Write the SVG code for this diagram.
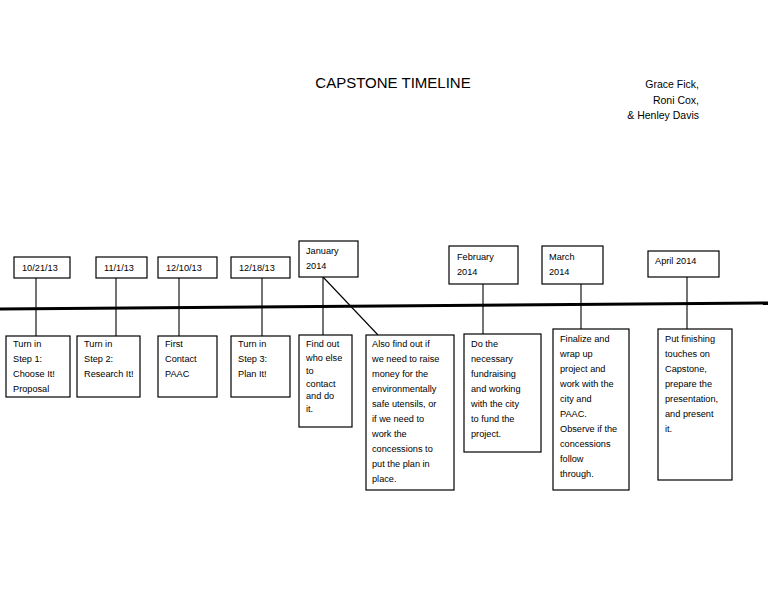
<svg xmlns="http://www.w3.org/2000/svg" width="768" height="594" viewBox="0 0 768 594">
<style>
rect{fill:#fff;stroke:#000;stroke-width:1.2}
text{font-family:"Liberation Sans",Arial,sans-serif;font-size:9.2px;fill:#000}
.c line{stroke:#000;stroke-width:1.1}
.t{font-size:15px}
.a{font-size:10.5px;text-anchor:end}
</style>
<rect width="768" height="594" style="stroke:none"/>
<text class="t" x="393" y="88" text-anchor="middle">CAPSTONE TIMELINE</text>
<text class="a" x="699" y="88">Grace Fick,</text>
<text class="a" x="699" y="104">Roni Cox,</text>
<text class="a" x="699" y="119">&amp; Henley Davis</text>
<g class="c">
<line x1="0" y1="309" x2="768" y2="303" style="stroke-width:3"/>
<line x1="36" y1="278" x2="36" y2="336"/>
<line x1="116" y1="278" x2="116" y2="336"/>
<line x1="179" y1="278" x2="179" y2="336"/>
<line x1="262" y1="278" x2="262" y2="336"/>
<line x1="323" y1="277" x2="323" y2="335"/>
<line x1="323" y1="277" x2="378" y2="335"/>
<line x1="483" y1="284" x2="483" y2="334"/>
<line x1="581" y1="284" x2="581" y2="329"/>
<line x1="687" y1="277" x2="687" y2="329"/>
</g>
<g id="d1"><rect x="14" y="257" width="56" height="21"/><text x="22" y="271">10/21/13</text></g>
<g id="d2"><rect x="96" y="257" width="51" height="21"/><text x="104" y="271">11/1/13</text></g>
<g id="d3"><rect x="158" y="257" width="59" height="21"/><text x="166" y="271">12/10/13</text></g>
<g id="d4"><rect x="231" y="257" width="59" height="21"/><text x="239" y="271">12/18/13</text></g>
<g id="d5"><rect x="299" y="241" width="59" height="36"/><text x="306" y="254">January</text><text x="306" y="269">2014</text></g>
<g id="d6"><rect x="449" y="246" width="69" height="38"/><text x="457" y="260">February</text><text x="457" y="275">2014</text></g>
<g id="d7"><rect x="542" y="246" width="61" height="38"/><text x="549" y="260">March</text><text x="549" y="275">2014</text></g>
<g id="d8"><rect x="648" y="251" width="71" height="26"/><text x="655" y="264">April 2014</text></g>
<g id="b1"><rect x="6" y="336" width="64" height="61"/><text x="13" y="347">Turn in</text><text x="13" y="362">Step 1:</text><text x="13" y="377">Choose It!</text><text x="13" y="392">Proposal</text></g>
<g id="b2"><rect x="77" y="336" width="63" height="61"/><text x="84" y="347">Turn in</text><text x="84" y="362">Step 2:</text><text x="84" y="377">Research It!</text></g>
<g id="b3"><rect x="158" y="336" width="59" height="61"/><text x="165" y="347">First</text><text x="165" y="362">Contact</text><text x="165" y="377">PAAC</text></g>
<g id="b4"><rect x="231" y="336" width="59" height="61"/><text x="238" y="347">Turn in</text><text x="238" y="362">Step 3:</text><text x="238" y="377">Plan It!</text></g>
<g id="b5"><rect x="299" y="335" width="53" height="92"/><text x="306" y="347">Find out</text><text x="306" y="361">who else</text><text x="306" y="374">to</text><text x="306" y="387">contact</text><text x="306" y="399">and do</text><text x="306" y="412">it.</text></g>
<g id="b6"><rect x="366" y="335" width="88" height="155"/><text x="372" y="347">Also find out if</text><text x="372" y="362">we need to raise</text><text x="372" y="377">money for the</text><text x="372" y="392">environmentally</text><text x="372" y="407">safe utensils, or</text><text x="372" y="422">if we need to</text><text x="372" y="437">work the</text><text x="372" y="452">concessions to</text><text x="372" y="467">put the plan in</text><text x="372" y="482">place.</text></g>
<g id="b7"><rect x="464" y="334" width="77" height="118"/><text x="471" y="347">Do the</text><text x="471" y="362">necessary</text><text x="471" y="377">fundraising</text><text x="471" y="392">and working</text><text x="471" y="407">with the city</text><text x="471" y="422">to fund the</text><text x="471" y="437">project.</text></g>
<g id="b8"><rect x="553" y="329" width="76" height="161"/><text x="560" y="342">Finalize and</text><text x="560" y="357">wrap up</text><text x="560" y="372">project and</text><text x="560" y="387">work with the</text><text x="560" y="402">city and</text><text x="560" y="417">PAAC.</text><text x="560" y="432">Observe if the</text><text x="560" y="447">concessions</text><text x="560" y="462">follow</text><text x="560" y="477">through.</text></g>
<g id="b9"><rect x="658" y="329" width="74" height="151"/><text x="665" y="342">Put finishing</text><text x="665" y="357">touches on</text><text x="665" y="372">Capstone,</text><text x="665" y="387">prepare the</text><text x="665" y="402">presentation,</text><text x="665" y="417">and present</text><text x="665" y="432">it.</text></g>
</svg>
